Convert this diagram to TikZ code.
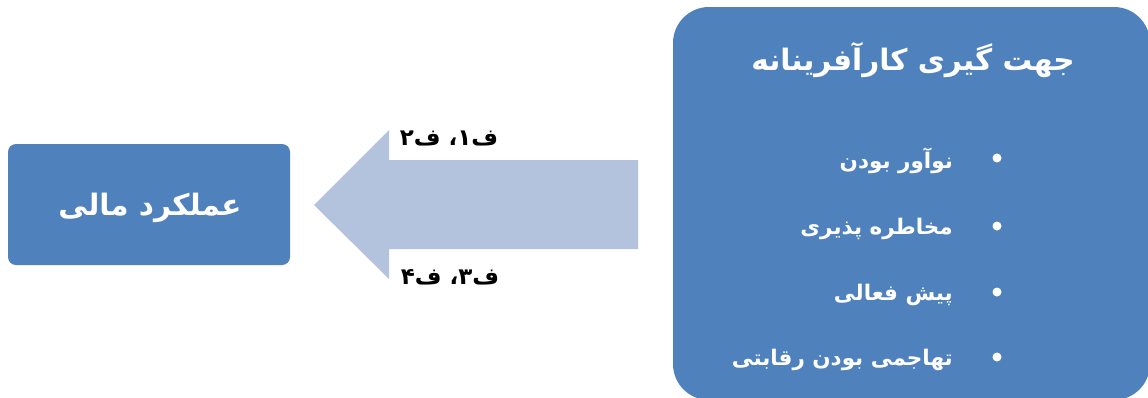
\documentclass[tikz,border=0pt]{standalone}
\usepackage{fontspec}
\usetikzlibrary{positioning}
\TeXXeTstate=1
\newfontfamily\farsifont[Script=Arabic]{DejaVu Sans}
\definecolor{boxblue}{HTML}{4F81BD}
\definecolor{arrowblue}{HTML}{B3C2DD}
\newcommand{\fa}[1]{\beginR #1\endR}
\tikzset{x=1pt,y=-1pt,
  blockbox/.style={fill=boxblue,draw=none,rounded corners=8pt,inner sep=0pt},
  bigbox/.style={blockbox,rounded corners=36pt},
  headtext/.style={text=white,inner sep=0pt,font=\farsifont\bfseries\fontsize{29.5}{34}\selectfont},
  itemtext/.style={text=white,inner sep=0pt,anchor=east,font=\farsifont\bfseries\fontsize{21.5}{25}\selectfont},
  dot/.style={circle,fill=white,inner sep=0pt,minimum size=9pt},
  hyplabel/.style={text=black,inner sep=0pt,font=\farsifont\bfseries\fontsize{23}{27}\selectfont},
}
\begin{document}
\begin{tikzpicture}
    \useasboundingbox (0,0) rectangle (1148,397);

    \node [blockbox, minimum width=282pt, minimum height=121pt] (finance) at (149,204.5) {};
    \node [headtext] (financetext) at (150,208) {\fa{عملکرد مالی}};

    \node [bigbox, minimum width=477pt, minimum height=393pt] (orient) at (911.5,203.5) {};
    \node [headtext] (title) at (913,60) {\fa{جهت گیری کارآفرینانه}};

    \foreach \name/\ypos/\txt in {innov/161/{نوآور بودن},
                                   risk/229/{مخاطره پذیری},
                                   proact/295/{پیش فعالی},
                                   compet/360/{تهاجمی بودن رقابتی}} {
        \node [dot] (\name dot) at (997,\ypos-3) {};
        \node [itemtext] (\name) at (953,\ypos) {\fa{\txt}};
    }

    \fill [arrowblue] (638,160) -- (389,160) -- (389,130) -- (314,205)
        -- (389,279) -- (389,249) -- (638,249) -- cycle;

    \node [hyplabel] (hypA) at (449,138) {\fa{ف۱، ف۲}};
    \node [hyplabel] (hypB) at (450,277) {\fa{ف۳، ف۴}};
  \end{tikzpicture}
\end{document}
